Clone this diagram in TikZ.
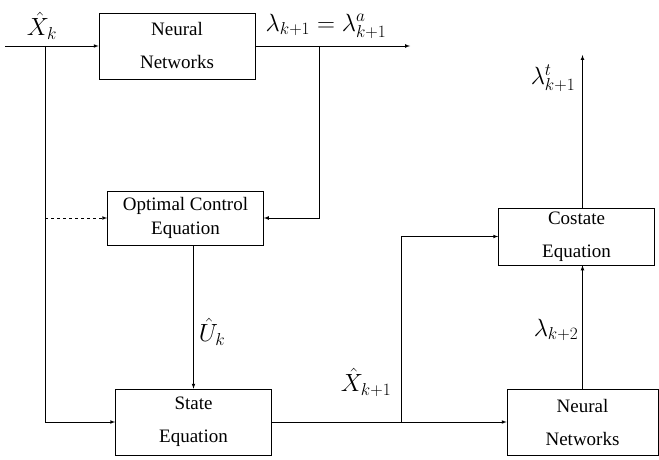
\documentclass[tikz,border=0pt]{standalone}
\usepackage{fontspec}
\setmainfont{Liberation Serif}
\usetikzlibrary{arrows,positioning}
\newcommand{\boxfont}{\fontsize{19}{33}\selectfont}
\newcommand{\labfont}{\fontsize{23}{27}\selectfont}

\begin{document}
\begin{tikzpicture}[x=1pt, y=-1pt, >=latex, line width=0.7pt,
    blockbox/.style={draw, minimum width=156pt, minimum height=66pt, align=center, font=\boxfont, inner sep=0pt},
    sig/.style={font=\labfont, inner sep=0pt}]
    \useasboundingbox (0,0) rectangle (659,460);

    % blocks
    \node[blockbox] (nnTop) at (177,46) {Neural\\Networks};
    \node[blockbox, minimum height=54pt, font=\fontsize{19}{24}\selectfont] (ocEq) at (185.5,218) {Optimal Control\\Equation};
    \node[blockbox] (stEq) at (193.5,422) {State\\Equation};
    \node[blockbox, minimum width=151pt] (nnBot) at (582.5,422) {Neural\\Networks};
    \node[blockbox, minimum height=57pt] (csEq) at (576.5,236.5) {Costate\\Equation};

    % branch points and free ends
    \coordinate (xIn) at (5,46);
    \coordinate (xSplit) at (45,46);
    \coordinate (lamOut) at (410,46);
    \coordinate (lamSplit) at (319,46);
    \coordinate (xNext) at (401,422);
    \coordinate (lamTop) at (582.5,55);

    % signals
    \draw[->] (xIn) -- (nnTop.west);
    \draw[->] (nnTop.east) -- (lamOut);
    \draw[->] (xSplit) |- (stEq.west);
    \draw[->, dashed] (xSplit |- ocEq.west) -- (ocEq.west);
    \draw[->] (lamSplit) |- (ocEq.east);
    \draw[->] (stEq.north |- ocEq.south) -- (stEq.north);
    \draw[->] (stEq.east) -- (nnBot.west);
    \draw[->] (xNext) |- (csEq.west);
    \draw[->] (nnBot.north) -- (nnBot.north |- csEq.south);
    \draw[->] (csEq.north -| nnBot.north) -- (lamTop);

    % labels
    \node[sig] (xkLab) at (42,26) {$\hat{X}_k$};
    \node[sig] (lamLab) at (326,26) {$\lambda_{k+1}=\lambda^a_{k+1}$};
    \node[sig] (ukLab) at (212,332) {$\hat{U}_k$};
    \node[sig] (xk1Lab) at (366,382) {$\hat{X}_{k+1}$};
    \node[sig] (lamtLab) at (553,78) {$\lambda^t_{k+1}$};
    \node[sig] (lam2Lab) at (556,330) {$\lambda_{k+2}$};
\end{tikzpicture}
\end{document}
